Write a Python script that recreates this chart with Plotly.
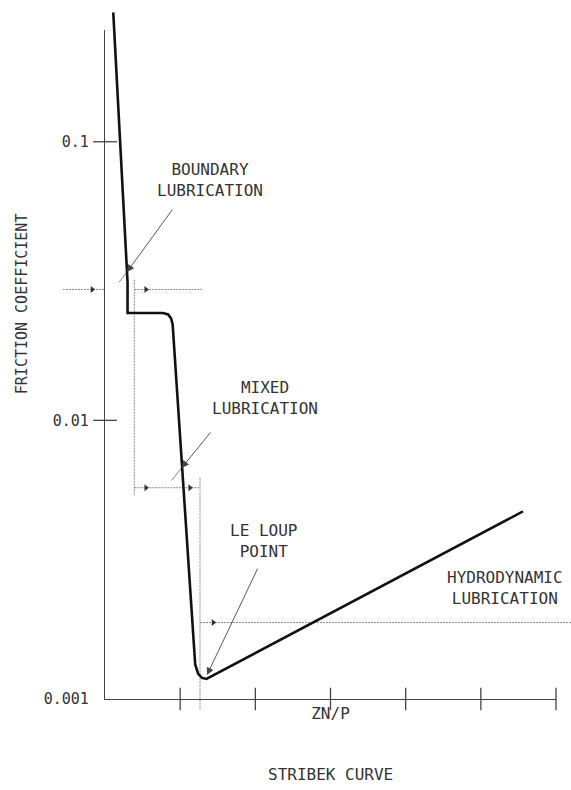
import numpy as np
import plotly.graph_objects as go

# ---------------- data ----------------
# Stribeck curve: ZN/P (in axis-tick units) vs friction coefficient
zn_p = [0.11, 0.30, 0.30, 0.77, 0.84, 0.88, 0.90, 1.18, 1.20, 1.24, 1.29, 1.35, 5.56]
friction = [0.291, 0.0314, 0.0243, 0.0243, 0.0240, 0.0232, 0.0221,
            0.00159, 0.00133, 0.00123, 0.00119, 0.00118, 0.00471]

x_ticks = [1, 2, 3, 4, 5, 6]
y_tick_vals = [0.001, 0.01, 0.1]
y_tick_text = ["0.001", "0.01", "0.1"]
y_cross_ticks = [0.01, 0.1]

# regime limits (ZN/P) and dimension-line levels (friction)
boundary_dim_x = [-0.56, 0.0, None, 0.39, 1.29]
boundary_level = 0.0295
mixed_dim_x = [0.39, 1.264]
mixed_level = 0.00573
hydro_dim_x = [1.264, 6.25]
hydro_level = 0.00188

# extension lines: x, f_top, f_bottom
ext_x = [0.39, 1.264]
ext_top = [0.0320, 0.00623]
ext_bottom = [0.00535, 0.000914]

# dimension arrowheads
dim_arrow_x = [-0.17, 0.545, 0.545, 1.13, 1.44]
dim_arrow_f = [0.0295, 0.0295, 0.00573, 0.00573, 0.00188]

# leaders: tail (near label), tip (on curve), end (short overrun past curve)
leader_tail_x = [0.909, 1.419, 2.039]
leader_tail_f = [0.0577, 0.00916, 0.00297]
leader_tip_x = [0.293, 1.020, 1.357]
leader_tip_f = [0.0341, 0.00675, 0.00122]
leader_end_x = [0.190, 0.887, 1.357]
leader_end_f = [0.0314, 0.00609, 0.00122]

labels = ["BOUNDARY<br>LUBRICATION", "MIXED<br>LUBRICATION",
          "LE LOUP<br>POINT", "HYDRODYNAMIC<br>LUBRICATION"]
label_x = [1.397, 2.128, 2.102, 5.321]
label_f = [0.0727, 0.01204, 0.00370, 0.00251]

FONT = "DejaVu Sans Mono"
TXT = "#333333"
AX = "#444444"
DIM = "#8a8a8a"

fig = go.Figure()

# extension and dimension lines (main full-page axes)
ex, ey = [], []
for x, t, b in zip(ext_x, ext_top, ext_bottom):
    ex += [x, x, None]
    ey += [t, b, None]
for xs, lvl in [(boundary_dim_x, boundary_level), (mixed_dim_x, mixed_level),
                (hydro_dim_x, hydro_level)]:
    ex += xs + [None]
    ey += [None if v is None else lvl for v in xs] + [None]
fig.add_trace(go.Scatter(x=ex, y=ey, mode="lines", xaxis="x", yaxis="y",
                         line=dict(color=DIM, width=1, dash="2px,1px"),
                         hoverinfo="skip"))
fig.add_trace(go.Scatter(x=dim_arrow_x, y=dim_arrow_f, mode="markers",
                         xaxis="x", yaxis="y",
                         marker=dict(symbol="triangle-right", size=6, color="#333"),
                         hoverinfo="skip"))

# leader overrun segments
lx, ly = [], []
for a, b, c, d in zip(leader_tip_x, leader_tip_f, leader_end_x, leader_end_f):
    lx += [a, c, None]
    ly += [b, d, None]
fig.add_trace(go.Scatter(x=lx, y=ly, mode="lines", xaxis="x", yaxis="y",
                         line=dict(color="#777", width=0.9), hoverinfo="skip"))

# the curve
fig.add_trace(go.Scatter(x=zn_p, y=friction, mode="lines", xaxis="x", yaxis="y",
                         line=dict(color="#111", width=2.6), hoverinfo="skip"))

# axis subplot: crossing tick marks
fig.add_trace(go.Scatter(x=x_ticks, y=[y_tick_vals[0]] * len(x_ticks), mode="markers",
                         xaxis="x2", yaxis="y2", cliponaxis=False,
                         marker=dict(symbol="line-ns", size=16,
                                     line=dict(color=AX, width=1.3)),
                         hoverinfo="skip"))
fig.add_trace(go.Scatter(x=[0] * len(y_cross_ticks), y=y_cross_ticks, mode="markers",
                         xaxis="x2", yaxis="y2", cliponaxis=False,
                         marker=dict(symbol="line-ew", size=17,
                                     line=dict(color=AX, width=1.3)),
                         hoverinfo="skip"))

annotations = []
for tx, tf, hx, hf in zip(leader_tail_x, leader_tail_f, leader_tip_x, leader_tip_f):
    annotations.append(dict(x=hx, y=np.log10(hf), ax=tx, ay=np.log10(tf),
                            xref="x", yref="y", axref="x", ayref="y",
                            text="", showarrow=True, arrowhead=2, arrowsize=1.6,
                            arrowwidth=0.9, arrowcolor="#444"))
for t, x, f in zip(labels, label_x, label_f):
    annotations.append(dict(x=x, y=np.log10(f), xref="x", yref="y", text=t,
                            showarrow=False, align="center",
                            font=dict(family=FONT, size=16, color=TXT)))
annotations.append(dict(x=21.7 / 571, y=(790 - 307) / 790, xref="paper", yref="paper",
                        text="FRICTION COEFFICIENT", textangle=-90, showarrow=False,
                        xanchor="center", yanchor="middle",
                        font=dict(family=FONT, size=15, color=TXT)))
annotations.append(dict(x=330 / 571, y=(790 - 783) / 790, xref="paper", yref="paper",
                        text="STRIBEK CURVE", showarrow=False,
                        xanchor="center", yanchor="middle",
                        font=dict(family=FONT, size=16, color=TXT)))

W, H = 571, 790
X0PX, XSCALE = 105, 75.17
Y3PX, DEC = 707, 281.8

fig.update_layout(
    width=W, height=H, autosize=False,
    margin=dict(l=0, r=0, t=0, b=0),
    paper_bgcolor="white", plot_bgcolor="rgba(0,0,0,0)",
    showlegend=False, hovermode=False,
    annotations=annotations,
    xaxis=dict(domain=[0, 1], range=[-X0PX / XSCALE, (W - X0PX) / XSCALE],
               visible=False, fixedrange=True),
    yaxis=dict(domain=[0, 1], type="log",
               range=[-3 - (H - Y3PX) / DEC, -3 + Y3PX / DEC],
               visible=False, fixedrange=True),
    xaxis2=dict(domain=[X0PX / W, (X0PX + 6 * XSCALE) / W], range=[0, 6],
                anchor="y2", showline=True, linecolor=AX, linewidth=1.2,
                showgrid=False, zeroline=False, ticks="", showticklabels=False,
                title=dict(text="ZN/P", standoff=8,
                           font=dict(family=FONT, size=16, color=TXT)),
                fixedrange=True),
    yaxis2=dict(domain=[(H - Y3PX) / H, (H - 30) / H], type="log",
                range=[-3, -3 + (Y3PX - 30) / DEC],
                anchor="x2", showline=True, linecolor=AX, linewidth=1.2,
                showgrid=False, zeroline=False, ticks="",
                tickvals=y_tick_vals, ticktext=y_tick_text, ticklabelstandoff=12,
                tickfont=dict(family=FONT, size=15, color=TXT),
                fixedrange=True),
)

fig.write_html("out.html",
               config={"displayModeBar": False, "staticPlot": True},
               post_script="document.body.style.margin='0';document.body.style.overflow='hidden';")
